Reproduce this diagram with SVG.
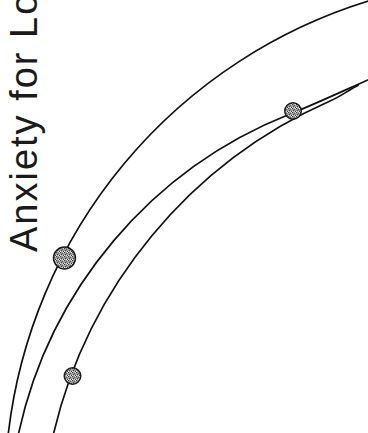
<svg xmlns="http://www.w3.org/2000/svg" width="368" height="433" viewBox="0 0 368 433">
<defs>
<pattern id="stipple" width="4" height="4" patternUnits="userSpaceOnUse">
<rect width="4" height="4" fill="#9c9c9c"/>
<rect x="0" y="0" width="1" height="1" fill="#3a3a3a"/>
<rect x="2" y="1" width="1" height="1" fill="#5a5a5a"/>
<rect x="1" y="2" width="1" height="1" fill="#4a4a4a"/>
<rect x="3" y="3" width="1" height="1" fill="#3a3a3a"/>
<rect x="3" y="0" width="1" height="1" fill="#e0e0e0"/>
<rect x="0" y="3" width="1" height="1" fill="#e6e6e6"/>
<rect x="2" y="3" width="1" height="1" fill="#d0d0d0"/>
</pattern>
</defs>
<style>
.title{font-family:"Liberation Sans",Arial,sans-serif;font-size:38px;fill:#1a1a1a;letter-spacing:2px}
.arc{fill:none;stroke:#111;stroke-width:1.7;stroke-linecap:round}
.ball{fill:url(#stipple);stroke:#1a1a1a;stroke-width:1.4}
</style>
<rect width="368" height="433" fill="#fff"/>
<g id="title">
<text class="title" transform="translate(37,252) rotate(-90)">Anxiety for Lo</text>
</g>
<g id="connectors">
<path class="arc" d="M 8 436 A 515 515 0 0 1 372 0"/>
<path class="arc" d="M 18 436 A 446 446 0 0 1 290 114 C 313 105 343 91 370 79"/>
<path class="arc" d="M 53 436 A 485 485 0 0 1 330 101 C 341 96.5 350 89 358 85.5"/>
</g>
<g id="node-outer">
<circle class="ball" cx="64.5" cy="258" r="11"/>
</g>
<g id="node-middle">
<circle class="ball" cx="293" cy="111" r="8.3"/>
</g>
<g id="node-inner">
<circle class="ball" cx="72.5" cy="376" r="8.3"/>
</g>
</svg>
